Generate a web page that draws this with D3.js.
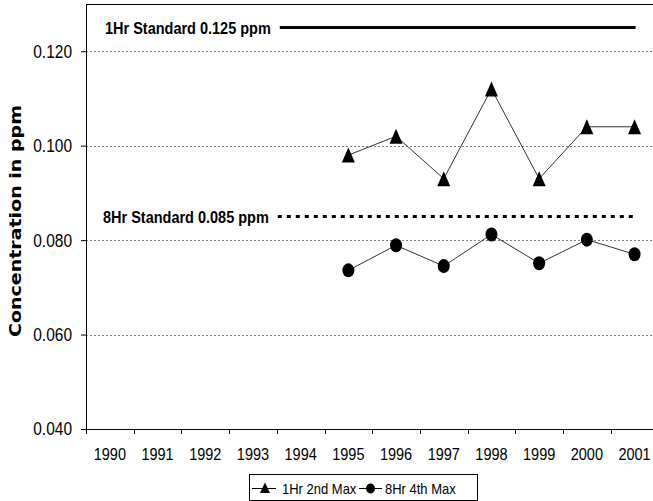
<!DOCTYPE html>
<html>
<head>
<meta charset="utf-8">
<script src="https://cdn.jsdelivr.net/npm/d3@7"></script>
<style>
  html, body { margin: 0; padding: 0; background: #fff; }
  svg { display: block; }
</style>
</head>
<body>
<svg id="chart" width="653" height="501"></svg>
<script>
const years = ["1990","1991","1992","1993","1994","1995","1996","1997","1998","1999","2000","2001"];
const dataYears = ["1995","1996","1997","1998","1999","2000","2001"];
const oneHr2ndMax = [0.098, 0.102, 0.093, 0.112, 0.093, 0.104, 0.104];
const eightHr4thMax = [0.0736, 0.0789, 0.0745, 0.0812, 0.0751, 0.0801, 0.0770];
const yTicks = [0.040, 0.060, 0.080, 0.100, 0.120];
const standardLabels = ["1Hr Standard 0.125 ppm", "8Hr Standard 0.085 ppm"];
const standardValues = [0.125, 0.085];
const standardStartYear = "1994";
const standardEndYear = "2001";
const seriesNames = ["1Hr 2nd Max", "8Hr 4th Max"];
const yTitle = "Concentration in ppm";

(function () {
const svg = d3.select("#chart");
const mLeft = 86, mTop = 4, mBottom = 429, step = 47.7;
const x = d3.scaleBand().domain(years).range([mLeft, mLeft + step * years.length]).padding(0);
const y = d3.scaleLinear().domain([0.04, 0.13]).range([mBottom, mTop]);
const cx = d => x(d) + x.bandwidth() / 2;
const font = "'Liberation Sans', Arial, sans-serif";
const sy = 1.13;

// gridlines
svg.append("g").selectAll("line").data(yTicks.filter(t => t > 0.04)).join("line")
  .attr("x1", mLeft).attr("x2", 653)
  .attr("y1", d => Math.round(y(d)) + 0.5).attr("y2", d => Math.round(y(d)) + 0.5)
  .attr("stroke", "#808080").attr("stroke-width", 1).attr("stroke-dasharray", "2,2");

// top border
svg.append("line").attr("x1", mLeft).attr("x2", 653).attr("y1", mTop + 0.5).attr("y2", mTop + 0.5)
  .attr("stroke", "#000").attr("stroke-width", 1);

// y axis
const yAxis = svg.append("g").attr("transform", `translate(${mLeft},0)`)
  .call(d3.axisLeft(y).tickValues(yTicks).tickFormat(d3.format(".3f")).tickSize(5).tickSizeOuter(0));
yAxis.select(".domain").attr("stroke", "#000");
yAxis.selectAll("text").attr("font-family", font).attr("font-size", 15.5).attr("fill", "#000")
  .attr("x", -14).attr("dy", "0.34em").attr("transform", `scale(1,${sy})`);

// x axis
const xAxis = svg.append("g").attr("transform", `translate(0,${mBottom})`)
  .call(d3.axisBottom(x).tickSize(0).tickSizeOuter(0));
xAxis.select(".domain").attr("stroke", "#000");
xAxis.selectAll("text").attr("font-family", font).attr("font-size", 14.5).attr("fill", "#000")
  .attr("y", 28.5).attr("dy", null).attr("transform", `translate(0,-1) scale(1,${sy})`);
svg.append("g").selectAll("line").data(years).join("line")
  .attr("x1", d => Math.round(x(d)) + 0.5).attr("x2", d => Math.round(x(d)) + 0.5)
  .attr("y1", mBottom).attr("y2", mBottom + 5).attr("stroke", "#000");

// y title
svg.append("text").attr("transform", `translate(20.5,221) rotate(-90)`)
  .attr("text-anchor", "middle").attr("font-family", "'DejaVu Sans', Verdana, sans-serif")
  .attr("font-weight", "bold").attr("font-size", 16.5)
  .attr("textLength", 232).attr("lengthAdjust", "spacingAndGlyphs").text(yTitle);

// standards
standardValues.forEach((v, i) => {
  const x1 = x(standardStartYear) + (i === 0 ? 3 : 1);
  const x2 = cx(standardEndYear) + 1;
  svg.append("line").attr("x1", x1).attr("x2", x2).attr("y1", y(v)).attr("y2", y(v))
    .attr("stroke", "#000").attr("stroke-width", 3)
    .attr("stroke-dasharray", i === 0 ? null : "4,5");
  svg.append("text").attr("x", x1 - 9).attr("y", y(v) + 5.5)
    .attr("text-anchor", "end").attr("font-family", font).attr("font-weight", "bold")
    .attr("font-size", 14.5).attr("transform", `translate(0,${y(v)}) scale(1,1.15) translate(0,${-y(v)})`)
    .text(standardLabels[i]);
});

// series lines
const line = d3.line().x((d, i) => cx(dataYears[i])).y(d => y(d));
svg.append("path").datum(oneHr2ndMax).attr("d", line).attr("fill", "none").attr("stroke", "#333").attr("stroke-width", 1);
svg.append("path").datum(eightHr4thMax).attr("d", line).attr("fill", "none").attr("stroke", "#333").attr("stroke-width", 1);

const tri = "M0,-7.5L6.5,7.5L-6.5,7.5Z";
svg.append("g").selectAll("path").data(oneHr2ndMax).join("path")
  .attr("d", tri).attr("transform", (d, i) => `translate(${cx(dataYears[i])},${y(d)})`).attr("fill", "#000");
svg.append("g").selectAll("ellipse").data(eightHr4thMax).join("ellipse")
  .attr("cx", (d, i) => cx(dataYears[i])).attr("cy", d => y(d)).attr("rx", 6).attr("ry", 7).attr("fill", "#000");

// legend
const lg = svg.append("g");
lg.append("rect").attr("x", 249.5).attr("y", 474.5).attr("width", 228).attr("height", 26)
  .attr("fill", "#fff").attr("stroke", "#000").attr("stroke-width", 1);
lg.append("line").attr("x1", 252).attr("x2", 276).attr("y1", 488.5).attr("y2", 488.5).attr("stroke", "#000");
lg.append("path").attr("d", "M0,-5.5L5,5L-5,5Z").attr("transform", "translate(265,488)").attr("fill", "#000");
lg.append("text").attr("x", 282).attr("y", 494).attr("font-family", font).attr("font-size", 13)
  .attr("transform", "translate(0,494) scale(1,1.15) translate(0,-494)").text(seriesNames[0]);
lg.append("line").attr("x1", 359).attr("x2", 382).attr("y1", 488.5).attr("y2", 488.5).attr("stroke", "#000");
lg.append("ellipse").attr("cx", 370.5).attr("cy", 488.5).attr("rx", 4.5).attr("ry", 5).attr("fill", "#000");
lg.append("text").attr("x", 385).attr("y", 494).attr("font-family", font).attr("font-size", 13)
  .attr("transform", "translate(0,494) scale(1,1.15) translate(0,-494)").text(seriesNames[1]);
})();
</script>
</body>
</html>
